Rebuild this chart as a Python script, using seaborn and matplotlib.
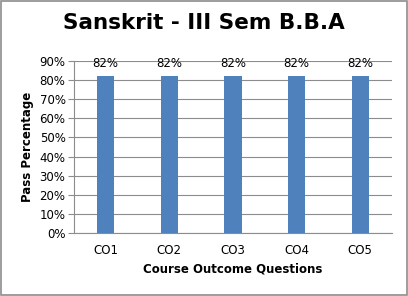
import matplotlib
matplotlib.use("Agg")
import matplotlib.pyplot as plt
import seaborn as sns
import pandas as pd
from matplotlib.ticker import PercentFormatter, MultipleLocator

categories = ["CO1", "CO2", "CO3", "CO4", "CO5"]
values = [82, 82, 82, 82, 82]
labels = ["82%", "82%", "82%", "82%", "82%"]

sns.set_style("white")
plt.rcParams['font.family'] = ['DejaVu Sans']
plt.rcParams['text.color'] = 'black'
plt.rcParams['axes.labelcolor'] = 'black'
plt.rcParams['xtick.color'] = 'black'
plt.rcParams['ytick.color'] = 'black'

df = pd.DataFrame({"cat": categories, "val": values})

fig = plt.figure(figsize=(4.08, 2.96), dpi=100)
ax = fig.add_axes([0.181, 0.213, 0.78, 0.581])
sns.barplot(data=df, x="cat", y="val", color="#4F81BD", width=0.27, saturation=1,
            linewidth=0, ax=ax, zorder=3)

ax.set_ylim(0, 90)
ax.yaxis.set_major_locator(MultipleLocator(10))
ax.yaxis.set_major_formatter(PercentFormatter(decimals=0))
ax.grid(axis="y", color="#8c8c8c", linewidth=0.8, zorder=0)
ax.set_axisbelow(True)
for s in ["top", "right"]:
    ax.spines[s].set_visible(False)
ax.spines["left"].set_color("#8c8c8c")
ax.spines["bottom"].set_color("#8c8c8c")
ax.tick_params(axis="y", length=4, color="#8c8c8c", labelcolor="black", labelsize=8.5, pad=2, left=True)
ax.tick_params(axis="x", length=0, labelcolor="black", labelsize=8.5, pad=8)

for i, (v, l) in enumerate(zip(values, labels)):
    ax.text(i, 88.5, l, ha="center", va="center", fontsize=8.5, color="black")

ax.set_xlabel("Course Outcome Questions", fontsize=8.5, fontweight="bold", labelpad=4, color="black")
ax.set_ylabel("Pass Percentage", fontsize=8.5, fontweight="bold", labelpad=4, color="black")

fig.text(0.5, 0.922, "Sanskrit - III Sem B.B.A", ha="center", va="center", fontsize=15.5,
         fontweight="bold", color="black")

border = plt.Rectangle((0.002, 0.003), 0.995, 0.994, transform=fig.transFigure, fill=False,
                       edgecolor="#8c8c8c", linewidth=1.2)
fig.patches.append(border)

fig.savefig("out.png", dpi=100)
